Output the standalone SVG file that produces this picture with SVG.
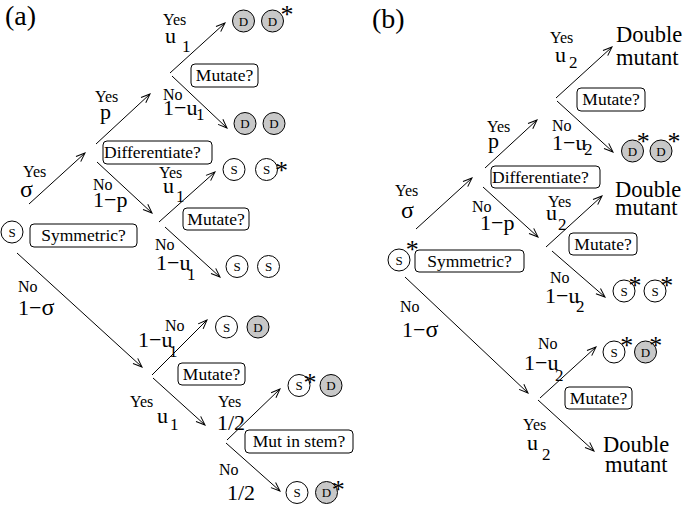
<svg xmlns="http://www.w3.org/2000/svg" width="692" height="508" viewBox="0 0 692 508" font-family="'Liberation Serif', Tinos, 'Times New Roman', 'DejaVu Serif', serif">
<style>
text{font-family:"Liberation Serif",Tinos,"Times New Roman","DejaVu Serif",serif;fill:#000}
.yn{font-size:16px}
.m{font-size:22px}
.sub{font-size:17px}
.bx{font-size:17.5px}
.pl{font-size:28px}
.dm{font-size:22.5px}
.cl{font-size:13px;text-anchor:middle}
.st{font-size:26px;text-anchor:middle}
.box{fill:#fff;stroke:#000;stroke-width:1}
.cw{fill:#fff;stroke:#000;stroke-width:1}
.cg{fill:#c8c8c8;stroke:#000;stroke-width:1}
.ar{stroke:#000;stroke-width:1;fill:none;marker-end:url(#ah)}
</style>
<defs>
<marker id="ah" markerUnits="userSpaceOnUse" markerWidth="12" markerHeight="10" viewBox="-10 -5 12 10" refX="0" refY="0" orient="auto">
<path d="M-9,-3.5 L0,0 L-9,3.5" fill="none" stroke="#000" stroke-width="1"/>
</marker>
</defs>
<rect width="692" height="508" fill="#fff"/>

<text class="pl" x="5" y="25">(a)</text>
<text class="pl" x="372" y="28">(b)</text>

<g id="connectors">
<line class="ar" x1="29" y1="204" x2="85" y2="153"/>
<line class="ar" x1="96" y1="144" x2="150" y2="94"/>
<line class="ar" x1="97" y1="162" x2="152" y2="213"/>
<line class="ar" x1="170" y1="73" x2="225" y2="23"/>
<line class="ar" x1="172" y1="76" x2="227" y2="128"/>
<line class="ar" x1="159" y1="222" x2="215" y2="172"/>
<line class="ar" x1="165" y1="227" x2="220" y2="277"/>
<line class="ar" x1="17" y1="253" x2="142" y2="367"/>
<line class="ar" x1="152" y1="375" x2="207" y2="320"/>
<line class="ar" x1="153" y1="378" x2="205" y2="425"/>
<line class="ar" x1="227" y1="440" x2="280" y2="389"/>
<line class="ar" x1="226" y1="443" x2="280" y2="491"/>
<line class="ar" x1="416" y1="229" x2="472" y2="178"/>
<line class="ar" x1="485" y1="168" x2="537" y2="120"/>
<line class="ar" x1="483" y1="187" x2="538" y2="237"/>
<line class="ar" x1="556" y1="98" x2="612" y2="47"/>
<line class="ar" x1="557" y1="101" x2="613" y2="152"/>
<line class="ar" x1="546" y1="247" x2="602" y2="196"/>
<line class="ar" x1="552" y1="251" x2="605" y2="297"/>
<line class="ar" x1="405" y1="277" x2="528" y2="393"/>
<line class="ar" x1="540" y1="398" x2="596" y2="347"/>
<line class="ar" x1="538" y1="400" x2="594" y2="451"/>
</g>

<g id="labels">
<text class="yn" x="23" y="177">Yes</text><text style="font-size:24px" x="20" y="197">σ</text>
<text class="yn" x="95" y="101.5">Yes</text><text class="m" x="100" y="119">p</text>
<text class="yn" x="93" y="189.5">No</text><text class="m" x="93" y="207">1−p</text>
<text class="yn" x="163" y="25">Yes</text><text class="m" x="165" y="43">u</text><text class="sub" x="182" y="51.5">1</text>
<text class="yn" x="163" y="100">No</text><text class="m" x="163" y="115">1−u</text><text class="sub" x="196" y="120">1</text>
<text class="yn" x="159" y="178">Yes</text><text class="m" x="163" y="193">u</text><text class="sub" x="176" y="201.5">1</text>
<text class="yn" x="155" y="250">No</text><text class="m" x="156" y="270">1−u</text><text class="sub" x="187" y="280">1</text>
<text class="yn" x="18" y="292">No</text><text class="m" x="18" y="315">1−<tspan style="font-size:24px">σ</tspan></text>
<text class="yn" x="165" y="330.5">No</text><text class="m" x="138" y="347">1−u</text><text class="sub" x="169" y="356.5">1</text>
<text class="yn" x="130" y="406.5">Yes</text><text class="m" x="157" y="423">u</text><text class="sub" x="170" y="430">1</text>
<text class="yn" x="218" y="406.5">Yes</text><text class="m" x="217" y="430">1/2</text>
<text class="yn" x="219" y="475">No</text><text class="m" x="227" y="500">1/2</text>

<text class="yn" x="395" y="196">Yes</text><text style="font-size:24px" x="401" y="218">σ</text>
<text class="yn" x="487" y="132">Yes</text><text class="m" x="488" y="148">p</text>
<text class="yn" x="472" y="212">No</text><text class="m" x="480" y="230">1−p</text>
<text class="yn" x="550" y="43">Yes</text><text class="m" x="555" y="62">u</text><text class="sub" x="569" y="68">2</text>
<text class="yn" x="552" y="131">No</text><text class="m" x="552" y="150">1−u</text><text class="sub" x="584" y="155">2</text>
<text class="yn" x="548" y="207">Yes</text><text class="m" x="546" y="220">u</text><text class="sub" x="558" y="230">2</text>
<text class="yn" x="550" y="283">No</text><text class="m" x="545" y="303">1−u</text><text class="sub" x="576" y="312">2</text>
<text class="yn" x="400" y="312">No</text><text class="m" x="402" y="337">1−<tspan style="font-size:24px">σ</tspan></text>
<text class="yn" x="538" y="349">No</text><text class="m" x="524" y="370">1−u</text><text class="sub" x="555" y="381">2</text>
<text class="yn" x="523" y="430">Yes</text><text class="m" x="527" y="450">u</text><text class="sub" x="542" y="460">2</text>
</g>

<g id="a-root"><circle class="cw" cx="12" cy="232" r="11"/><text class="cl" x="12" y="236.5">S</text></g>
<g id="a-symmetric"><rect class="box" x="30" y="224" width="107" height="23" rx="4"/><text class="bx" x="83.5" y="241" text-anchor="middle">Symmetric?</text></g>
<g id="a-differentiate"><rect class="box" x="103" y="141" width="109" height="23" rx="4"/><text class="bx" x="104" y="158">Differentiate?</text></g>
<g id="a-mutate1"><rect class="box" x="191" y="64" width="67" height="23" rx="4"/><text class="bx" x="224.5" y="81" text-anchor="middle">Mutate?</text></g>
<g id="a-mutate2"><rect class="box" x="183" y="208" width="66" height="22" rx="4"/><text class="bx" x="216" y="225" text-anchor="middle">Mutate?</text></g>
<g id="a-mutate3"><rect class="box" x="178" y="363" width="67" height="22" rx="4"/><text class="bx" x="211.5" y="380" text-anchor="middle">Mutate?</text></g>
<g id="a-mutstem"><rect class="box" x="245" y="430" width="108" height="23" rx="4"/><text class="bx" x="299" y="447" text-anchor="middle">Mut in stem?</text></g>

<g id="a-DDstar"><circle class="cg" cx="243.5" cy="21" r="11"/><text class="cl" x="243.5" y="25.5">D</text><circle class="cg" cx="272.5" cy="21" r="11"/><text class="cl" x="272.5" y="25.5">D</text><text class="st" x="287" y="23">*</text></g>
<g id="a-DD"><circle class="cg" cx="245" cy="123.5" r="11"/><text class="cl" x="245" y="128">D</text><circle class="cg" cx="274" cy="123.5" r="11"/><text class="cl" x="274" y="128">D</text></g>
<g id="a-SSstar"><circle class="cw" cx="234" cy="169.5" r="11"/><text class="cl" x="234" y="174">S</text><circle class="cw" cx="266.5" cy="169.5" r="11"/><text class="cl" x="266.5" y="174">S</text><text class="st" x="281.5" y="178.5">*</text></g>
<g id="a-SS"><circle class="cw" cx="237" cy="266.5" r="11"/><text class="cl" x="237" y="271">S</text><circle class="cw" cx="268.5" cy="266.5" r="11"/><text class="cl" x="268.5" y="271">S</text></g>
<g id="a-SD"><circle class="cw" cx="226.5" cy="327" r="11"/><text class="cl" x="226.5" y="331.5">S</text><circle class="cg" cx="258" cy="327" r="11"/><text class="cl" x="258" y="331.5">D</text></g>
<g id="a-SstarD"><circle class="cw" cx="299" cy="385.5" r="11"/><text class="cl" x="299" y="390">S</text><text class="st" x="310" y="390.5">*</text><circle class="cg" cx="331" cy="385.5" r="11"/><text class="cl" x="331" y="390">D</text></g>
<g id="a-SDstar"><circle class="cw" cx="297" cy="492.5" r="11"/><text class="cl" x="297" y="497">S</text><circle class="cg" cx="326.5" cy="492.5" r="11"/><text class="cl" x="326.5" y="497">D</text><text class="st" x="338.3" y="498">*</text></g>

<g id="b-root"><circle class="cw" cx="399" cy="260" r="11"/><text class="cl" x="399" y="264.5">S</text><text class="st" x="412.3" y="258">*</text></g>
<g id="b-symmetric"><rect class="box" x="415" y="250" width="109" height="22" rx="4"/><text class="bx" x="469.5" y="267" text-anchor="middle">Symmetric?</text></g>
<g id="b-differentiate"><rect class="box" x="491" y="166" width="109" height="22" rx="4"/><text class="bx" x="492" y="183">Differentiate?</text></g>
<g id="b-mutate1"><rect class="box" x="577" y="88" width="68" height="23" rx="4"/><text class="bx" x="611" y="105" text-anchor="middle">Mutate?</text></g>
<g id="b-mutate2"><rect class="box" x="569" y="233" width="68" height="22" rx="4"/><text class="bx" x="603" y="250" text-anchor="middle">Mutate?</text></g>
<g id="b-mutate3"><rect class="box" x="565" y="387" width="67" height="22" rx="4"/><text class="bx" x="598.5" y="404" text-anchor="middle">Mutate?</text></g>

<g id="b-double1"><text class="dm" x="616" y="42">Double</text><text class="dm" x="616" y="65">mutant</text></g>
<g id="b-DstarDstar"><circle class="cg" cx="632.5" cy="151" r="11"/><text class="cl" x="632.5" y="155.5">D</text><text class="st" x="643.3" y="149.5">*</text><circle class="cg" cx="661" cy="151" r="11"/><text class="cl" x="661" y="155.5">D</text><text class="st" x="674" y="149.5">*</text></g>
<g id="b-double2"><text class="dm" x="615" y="197">Double</text><text class="dm" x="615" y="215">mutant</text></g>
<g id="b-SstarSstar"><circle class="cw" cx="624" cy="291" r="11"/><text class="cl" x="624" y="295.5">S</text><text class="st" x="635" y="293.5">*</text><circle class="cw" cx="655" cy="291" r="11"/><text class="cl" x="655" y="295.5">S</text><text class="st" x="666.7" y="293.5">*</text></g>
<g id="b-SstarDstar"><circle class="cw" cx="614" cy="352" r="11"/><text class="cl" x="614" y="356.5">S</text><text class="st" x="626.7" y="354">*</text><circle class="cg" cx="645.5" cy="352" r="11"/><text class="cl" x="645.5" y="356.5">D</text><text class="st" x="655.8" y="354">*</text></g>
<g id="b-double3"><text class="dm" x="603" y="452">Double</text><text class="dm" x="605" y="472">mutant</text></g>
</svg>
